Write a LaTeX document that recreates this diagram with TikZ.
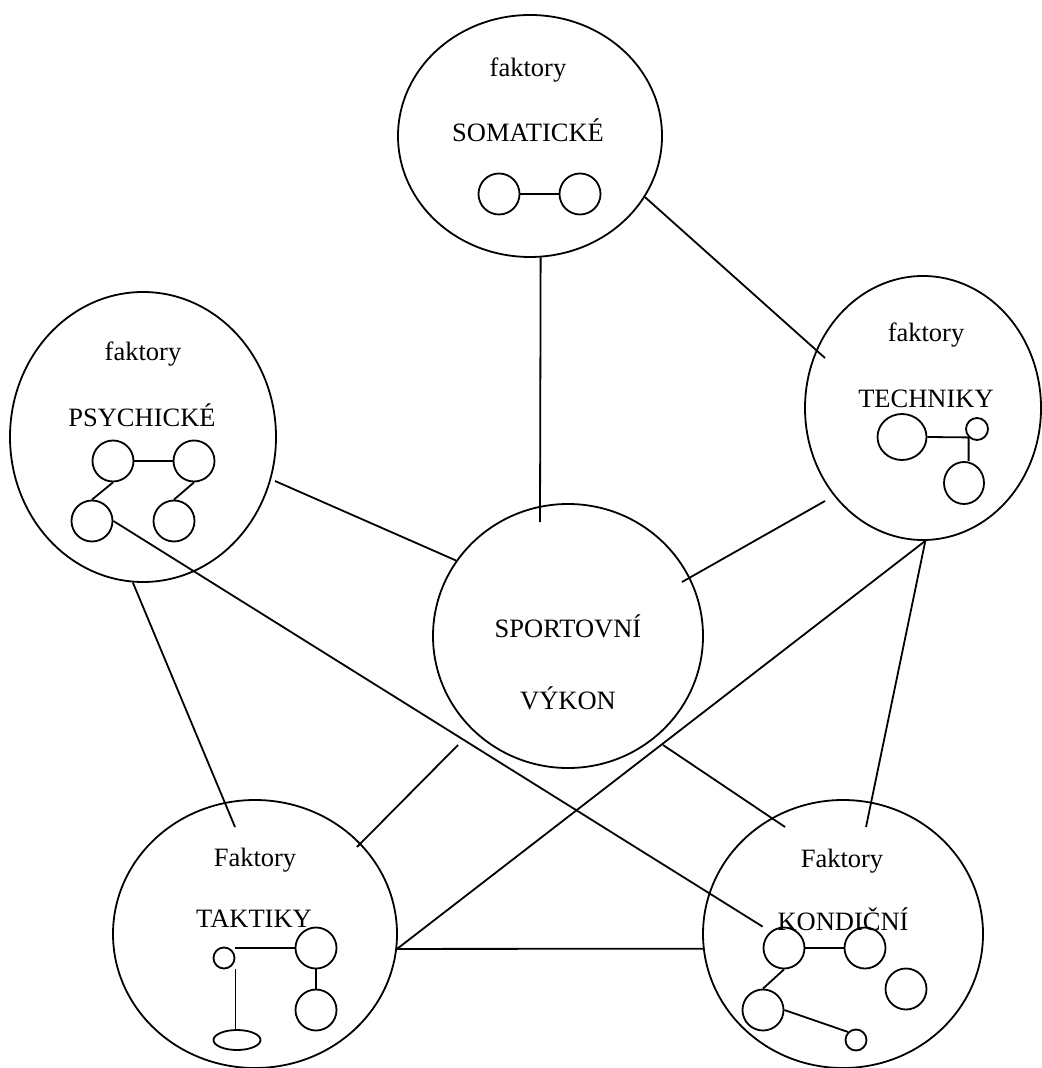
\documentclass[tikz,border=0pt]{standalone}
\usepackage{fontspec}
\setmainfont{Liberation Serif}
\usetikzlibrary{shapes.geometric}

\begin{document}
\begin{tikzpicture}[
    x=0.5pt, y=-0.5pt, line width=0.9pt,
    factor/.style={ellipse, draw, inner sep=0pt},
    dot/.style={circle, draw, inner sep=0pt, minimum size=20.5pt},
    smalldot/.style={circle, draw, inner sep=0pt, minimum size=10.5pt},
    edge/.style={draw},
    txt/.style={anchor=base, inner sep=0pt},
    every node/.style={font=\fontsize{13.25}{16}\selectfont}
]
\useasboundingbox (0,0) rectangle (1041,1068);

% factor circles
\node[factor, minimum width=132pt, minimum height=121pt] (som) at (530,136) {};
\node[factor, minimum width=133pt, minimum height=145pt] (psy) at (143,437) {};
\node[factor, minimum width=118pt, minimum height=132pt] (tech) at (923,408) {};
\node[factor, minimum width=135pt, minimum height=132pt] (sport) at (568,636) {};
\node[factor, minimum width=142pt, minimum height=134pt] (takt) at (255,934) {};
\node[factor, minimum width=140pt, minimum height=134pt] (kond) at (843,934) {};

% texts
\node[txt] (somt) at (528,77) {faktory};
\node[txt] (soml) at (528,142) {SOMATICKÉ};
\node[txt] (psyt) at (143,361) {faktory};
\node[txt] (psyl) at (142,427) {PSYCHICKÉ};
\node[txt] (techt) at (926,342) {faktory};
\node[txt] (techl) at (926,408) {TECHNIKY};
\node[txt] (sportl) at (568,637) {SPORTOVNÍ};
\node[txt] (sportm) at (568,709) {VÝKON};
\node[txt] (taktt) at (255,866) {Faktory};
\node[txt] (taktl) at (254,927) {TAKTIKY};
\node[txt] (kondt) at (842,867) {Faktory};
\node[txt] (kondl) at (843,930) {KONDIČNÍ};

% small circles inside
\node[dot] (s1) at (499,194) {};
\node[dot] (s2) at (580,194) {};
\draw[edge] (s1) -- (s2);

\node[dot] (p1) at (113,461) {};
\node[dot] (p2) at (194,461) {};
\node[dot] (p3) at (92,521) {};
\node[dot] (p4) at (174,521) {};
\draw[edge] (p1) -- (p2);
\draw[edge] (p1.south) -- (p3.north);
\draw[edge] (p2.south) -- (p4.north);

\node[ellipse, draw, inner sep=0pt, minimum width=24.5pt, minimum height=23pt] (t1) at (902,437) {};
\node[circle, draw, inner sep=0pt, minimum size=11pt] (t2) at (977,429) {};
\node[ellipse, draw, inner sep=0pt, minimum width=20pt, minimum height=21pt] (t3) at (964,483) {};
\draw[edge] (t1.east) -- (t2.south west) -- (t2.south west |- t3.north);

\node[smalldot] (a1) at (224,958) {};
\node[dot] (a2) at (316,948) {};
\node[dot] (a3) at (316,1010) {};
\node[ellipse, draw, inner sep=0pt, minimum width=23.5pt, minimum height=10pt] (a4) at (237,1040) {};
\draw[edge] (a1.east |- a2.west) -- (a2.west);
\draw[edge] (a1.east |- a1.south) -- (a1.east |- a4.north);
\draw[edge] (a2) -- (a3);

\node[dot] (c1) at (784,948) {};
\node[dot] (c2) at (865,948) {};
\node[dot] (c3) at (906,989) {};
\node[dot] (c4) at (763,1010) {};
\node[smalldot] (c5) at (856,1040) {};
\draw[edge] (c1) -- (c2);
\draw[edge] (c1.south) -- (c4.north);
\draw[edge] (c4.east) -- (c5.north west);

% loose ends of the connectors
\coordinate (sv1) at (540,522);
\coordinate (tc1) at (825,358);
\coordinate (ps1) at (275,481);
\coordinate (tc2) at (825,501);
\coordinate (sv2) at (682,582);
\coordinate (tk1) at (235,827);
\coordinate (sv3) at (458,745);
\coordinate (tk2) at (357,847);
\coordinate (sv4) at (663,745);
\coordinate (kd1) at (785,827);
\coordinate (kd2) at (866,827);

% connectors
\draw[edge] (som.-85) -- (sv1); % somatic to performance
\draw[edge] (som.-28) -- (tc1); % somatic to technique
\draw[edge] (ps1) -- (sport.146); % psychic to performance
\draw[edge] (tc2) -- (sv2); % technique to performance
\draw[edge] (psy.-94) -- (tk1); % psychic to tactics
\draw[edge] (sv3) -- (tk2); % performance to tactics
\draw[edge] (sv4) -- (kd1); % performance to condition
\draw[edge] (tech.-89) -- (takt.-6); % technique to tactics
\draw[edge] (tech.-89) -- (kd2); % technique to condition
\draw[edge] (takt.-6) -- (kond.186); % tactics to condition
\draw[edge] (p3.east) -- (c1.west |- c1.north); % psychic to condition

\end{tikzpicture}
\end{document}
